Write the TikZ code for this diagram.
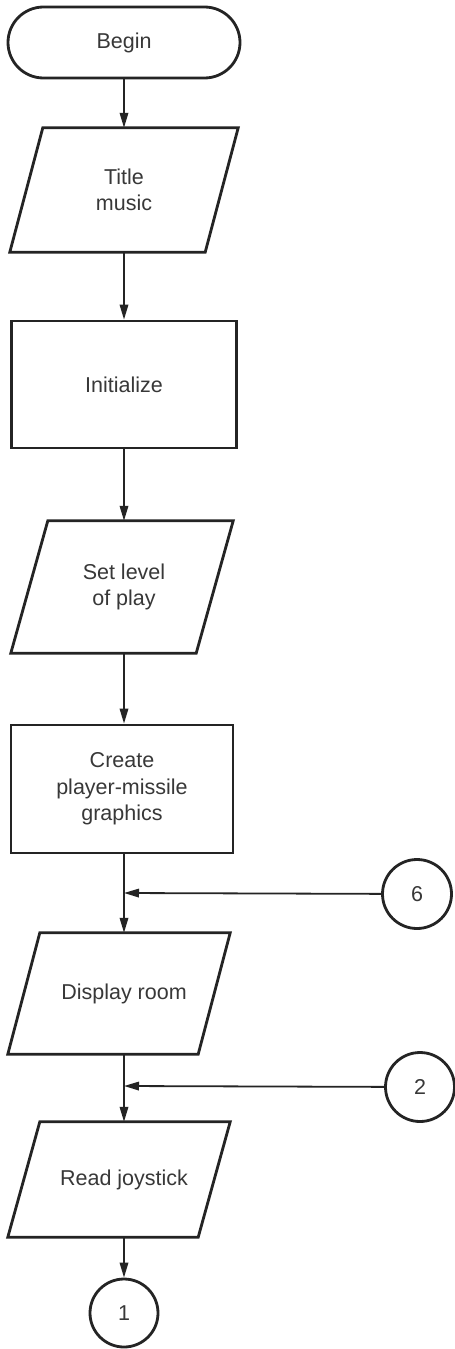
\documentclass[tikz,border=0pt]{standalone}
\usepackage{fontspec}
\setmainfont{Liberation Sans}
\usetikzlibrary{arrows.meta,calc}
\definecolor{ink}{HTML}{242424}
\definecolor{txt}{HTML}{383838}

% parallelogram drawn around an (invisible) node: name, slant, x offset
\newcommand\slantbox[3]{%
  \draw[outline] ($(#1.north west)+({#2/2+#3},0)$) -- ($(#1.north east)+({#2/2+#3},0)$)
    -- ($(#1.south east)+({-#2/2+#3},0)$) -- ($(#1.south west)+({-#2/2+#3},0)$) -- cycle;}

\begin{document}
\begin{tikzpicture}[x=1pt,y=1pt,
  outline/.style={draw=ink, line width=2.8pt, line join=miter},
  txtstyle/.style={font=\fontsize{21.5}{26.5}\selectfont, text=txt, align=center, inner sep=0pt},
  terminal/.style={txtstyle, outline, rounded corners=35.5pt},
  procbox/.style={txtstyle, outline},
  iobox/.style={txtstyle},
  connector/.style={txtstyle, outline, circle, minimum size=69pt},
  flow/.style={draw=ink, line width=1.8pt, -{Triangle[length=15pt,width=8.5pt]}},
]
\fill[white] (0,0) rectangle (455,-1349);
\useasboundingbox (0,0) rectangle (455,-1349);

% main column
\node[terminal, minimum width=232pt, minimum height=71pt] (begin) at (124,-42.5) {Begin};
\node[iobox, minimum width=195pt, minimum height=124pt] (title) at (124,-190) {Title\\music};
\slantbox{title}{33}{0}
\node[procbox, minimum width=225pt, minimum height=127pt] (init) at (124,-384.5) {Initialize};
\node[iobox, minimum width=185pt, minimum height=132pt] (level) at (124,-587) {Set level\\of play};
\slantbox{level}{37}{-2}
\node[procbox, minimum width=222pt, minimum height=128pt] (create) at (122,-789) {Create\\player-missile\\graphics};
\node[iobox, minimum width=190pt, minimum height=121pt] (display) at (124,-993.5) {Display room};
\slantbox{display}{32}{-5}
\node[iobox, minimum width=190pt, minimum height=115pt] (joy) at (124,-1179.5) {Read joystick};
\slantbox{joy}{32}{-5}
\node[connector, minimum size=68pt] (c1) at (124,-1313) {1};

% off-page connectors on the right
\node[connector] (c6) at (417,-894) {6};
\node[connector] (c2) at (420,-1087) {2};
\coordinate (m6) at (124,-893);
\coordinate (m2) at (124,-1086);

% flow lines
\draw[flow] (begin) -- (title);
\draw[flow] (title) -- (init);
\draw[flow] (init) -- (level);
\draw[flow] (level) -- (create.north -| level.south);
\draw[flow] (create.south -| begin.south) -- (display);
\draw[flow] (c6) -- (m6);
\draw[flow] (display) -- (joy);
\draw[flow] (c2) -- (m2);
\draw[flow] (joy) -- (c1);
\end{tikzpicture}
\end{document}
